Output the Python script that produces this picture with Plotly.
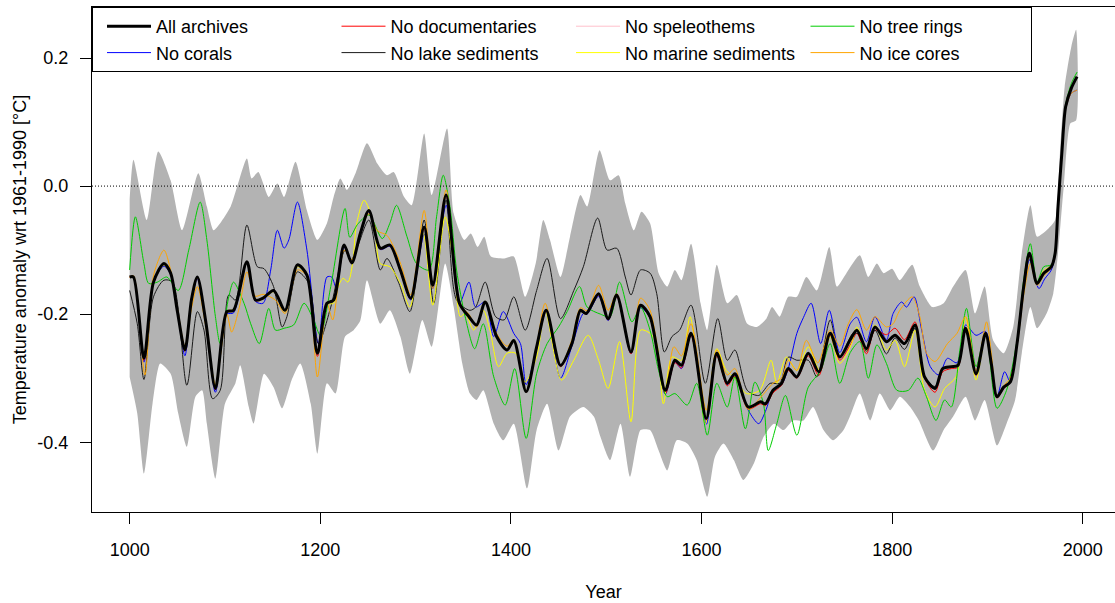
import plotly.graph_objects as go

# ---------------- data ----------------
all_years = [1000,1004,1015,1025,1036,1043,1050,1058,1065,1071,1080,1090,1102,1109,1123,1132,1140,1151,1163,1176,1186,1197,1207,1214,1225,1233,1242,1251,1263,1273,1284,1295,1309,1318,1332,1346,1356,1364,1373,1385,1396,1403,1416,1427,1437,1452,1464,1473,1479,1492,1502,1511,1526,1536,1546,1562,1572,1579,1589,1605,1616,1627,1635,1649,1662,1667,1675,1684,1691,1700,1712,1723,1735,1745,1756,1763,1773,1782,1794,1803,1813,1824,1834,1845,1853,1862,1869,1877,1888,1898,1904,1910,1917,1924,1931,1938,1944,1952,1959,1967,1971,1974,1978,1982,1988,1994]
all_vals = [-0.142,-0.142,-0.269,-0.150,-0.121,-0.136,-0.195,-0.256,-0.176,-0.142,-0.213,-0.316,-0.196,-0.194,-0.118,-0.178,-0.175,-0.163,-0.194,-0.123,-0.139,-0.261,-0.183,-0.178,-0.092,-0.120,-0.074,-0.038,-0.097,-0.092,-0.131,-0.175,-0.064,-0.155,-0.014,-0.183,-0.204,-0.217,-0.181,-0.235,-0.256,-0.241,-0.321,-0.251,-0.194,-0.280,-0.246,-0.194,-0.199,-0.168,-0.207,-0.170,-0.259,-0.186,-0.204,-0.319,-0.272,-0.280,-0.230,-0.363,-0.261,-0.308,-0.293,-0.345,-0.337,-0.340,-0.319,-0.308,-0.285,-0.298,-0.261,-0.290,-0.230,-0.267,-0.240,-0.225,-0.254,-0.220,-0.243,-0.233,-0.246,-0.217,-0.298,-0.316,-0.285,-0.282,-0.280,-0.222,-0.293,-0.230,-0.277,-0.329,-0.314,-0.306,-0.246,-0.157,-0.105,-0.152,-0.136,-0.126,-0.105,-0.032,0.051,0.124,0.153,0.171]

band_up_years = [1000,1004,1018,1030,1043,1055,1072,1081,1088,1095,1106,1123,1128,1135,1146,1155,1162,1174,1186,1197,1207,1214,1221,1228,1237,1249,1260,1270,1277,1288,1296,1309,1317,1333,1340,1351,1358,1365,1372,1379,1393,1403,1415,1426,1434,1441,1452,1462,1473,1480,1493,1504,1513,1520,1529,1537,1546,1555,1564,1572,1579,1589,1599,1606,1616,1627,1637,1648,1658,1668,1674,1682,1691,1700,1710,1721,1734,1742,1752,1766,1775,1784,1791,1800,1808,1821,1829,1842,1854,1864,1877,1887,1897,1906,1917,1927,1936,1945,1952,1962,1971,1976,1981,1988,1993]
band_up_vals = [-0.020,0.041,-0.053,0.054,0.009,-0.069,0.020,-0.032,-0.069,-0.058,-0.032,0.043,0.012,0.022,-0.017,0.004,-0.017,0.038,-0.038,-0.084,-0.058,-0.017,0.012,-0.006,0.020,0.067,0.035,0.017,0.022,-0.017,-0.030,0.082,-0.014,0.090,-0.043,-0.084,-0.074,-0.095,-0.079,-0.110,-0.113,-0.110,-0.173,-0.121,-0.053,-0.084,-0.142,-0.079,-0.014,-0.032,0.056,0.009,0.017,-0.027,-0.069,-0.040,-0.058,-0.136,-0.157,-0.131,-0.147,-0.090,-0.183,-0.225,-0.123,-0.183,-0.170,-0.215,-0.220,-0.207,-0.189,-0.204,-0.173,-0.173,-0.142,-0.163,-0.095,-0.157,-0.136,-0.108,-0.142,-0.121,-0.136,-0.129,-0.147,-0.123,-0.157,-0.189,-0.183,-0.157,-0.131,-0.199,-0.157,-0.241,-0.261,-0.220,-0.105,-0.030,-0.079,-0.069,-0.053,0.051,0.155,0.218,0.244]

band_lo_years = [1000,1008,1015,1024,1032,1043,1051,1060,1069,1076,1081,1090,1100,1111,1116,1125,1130,1141,1151,1160,1170,1179,1190,1197,1207,1216,1226,1235,1242,1249,1263,1273,1284,1294,1307,1317,1331,1340,1349,1357,1364,1371,1382,1392,1403,1417,1427,1438,1450,1462,1476,1487,1494,1504,1515,1525,1536,1546,1555,1564,1574,1585,1595,1606,1614,1623,1634,1644,1655,1665,1676,1686,1696,1707,1717,1728,1738,1749,1757,1766,1777,1787,1798,1808,1819,1828,1843,1854,1864,1877,1887,1897,1910,1920,1929,1936,1945,1952,1962,1969,1974,1980,1987,1993]
band_lo_vals = [-0.298,-0.355,-0.449,-0.340,-0.277,-0.293,-0.355,-0.407,-0.329,-0.319,-0.371,-0.457,-0.340,-0.308,-0.280,-0.345,-0.371,-0.293,-0.314,-0.347,-0.303,-0.277,-0.340,-0.418,-0.308,-0.324,-0.235,-0.225,-0.210,-0.147,-0.215,-0.194,-0.235,-0.293,-0.209,-0.251,-0.121,-0.189,-0.277,-0.324,-0.334,-0.319,-0.371,-0.397,-0.371,-0.472,-0.381,-0.340,-0.413,-0.360,-0.345,-0.360,-0.392,-0.428,-0.371,-0.454,-0.381,-0.381,-0.413,-0.444,-0.397,-0.402,-0.428,-0.485,-0.423,-0.402,-0.428,-0.459,-0.433,-0.392,-0.371,-0.381,-0.366,-0.366,-0.345,-0.381,-0.397,-0.381,-0.355,-0.324,-0.366,-0.324,-0.350,-0.329,-0.345,-0.366,-0.413,-0.381,-0.360,-0.329,-0.366,-0.334,-0.405,-0.371,-0.334,-0.261,-0.189,-0.222,-0.199,-0.168,-0.105,-0.001,0.098,0.103]

corals_years = [1000,1004,1015,1025,1036,1043,1050,1058,1065,1071,1080,1090,1102,1109,1123,1132,1140,1148,1155,1162,1167,1176,1186,1198,1207,1212,1217,1225,1233,1242,1251,1263,1273,1284,1295,1309,1318,1332,1346,1356,1363,1373,1382,1392,1403,1410,1416,1427,1437,1452,1464,1476,1480,1492,1502,1511,1526,1536,1546,1562,1572,1579,1589,1605,1616,1627,1635,1649,1660,1667,1675,1684,1691,1700,1707,1715,1725,1734,1745,1756,1763,1773,1782,1794,1801,1810,1815,1823,1831,1840,1849,1858,1868,1877,1888,1898,1904,1910,1918,1924,1931,1938,1944,1954,1960,1967,1971,1974,1978,1982,1988,1994]
corals_vals = [-0.142,-0.143,-0.275,-0.150,-0.125,-0.138,-0.195,-0.265,-0.178,-0.145,-0.215,-0.322,-0.200,-0.198,-0.120,-0.180,-0.183,-0.131,-0.069,-0.097,-0.084,-0.025,-0.100,-0.246,-0.142,-0.142,-0.160,-0.095,-0.120,-0.076,-0.040,-0.099,-0.094,-0.133,-0.178,-0.075,-0.160,-0.030,-0.183,-0.150,-0.189,-0.181,-0.235,-0.196,-0.230,-0.246,-0.310,-0.255,-0.196,-0.300,-0.250,-0.199,-0.200,-0.172,-0.210,-0.172,-0.262,-0.190,-0.206,-0.325,-0.275,-0.285,-0.232,-0.372,-0.262,-0.310,-0.295,-0.350,-0.371,-0.352,-0.320,-0.310,-0.285,-0.230,-0.205,-0.183,-0.246,-0.194,-0.260,-0.215,-0.205,-0.243,-0.204,-0.240,-0.199,-0.181,-0.189,-0.173,-0.225,-0.282,-0.295,-0.269,-0.276,-0.217,-0.233,-0.227,-0.275,-0.329,-0.290,-0.306,-0.250,-0.165,-0.115,-0.160,-0.145,-0.131,-0.108,-0.035,0.048,0.120,0.145,0.150]

documentaries_years = list(all_years)
documentaries_vals = [-0.142,-0.142,-0.272,-0.151,-0.122,-0.137,-0.196,-0.258,-0.177,-0.143,-0.214,-0.318,-0.197,-0.195,-0.119,-0.179,-0.176,-0.164,-0.195,-0.124,-0.140,-0.266,-0.184,-0.179,-0.093,-0.121,-0.075,-0.039,-0.098,-0.093,-0.132,-0.176,-0.065,-0.156,-0.015,-0.184,-0.205,-0.218,-0.182,-0.236,-0.257,-0.242,-0.322,-0.252,-0.195,-0.282,-0.247,-0.195,-0.200,-0.170,-0.209,-0.172,-0.262,-0.188,-0.206,-0.324,-0.276,-0.284,-0.233,-0.366,-0.265,-0.312,-0.297,-0.348,-0.340,-0.343,-0.323,-0.311,-0.288,-0.300,-0.265,-0.296,-0.233,-0.272,-0.248,-0.230,-0.262,-0.225,-0.232,-0.222,-0.240,-0.212,-0.300,-0.322,-0.290,-0.285,-0.283,-0.224,-0.296,-0.232,-0.279,-0.331,-0.316,-0.307,-0.247,-0.158,-0.106,-0.153,-0.137,-0.127,-0.106,-0.033,0.050,0.123,0.152,0.170]

lake_years = [1000,1008,1015,1025,1036,1045,1060,1071,1078,1087,1095,1104,1111,1123,1134,1141,1151,1160,1165,1176,1188,1198,1211,1226,1232,1239,1251,1263,1270,1282,1294,1309,1319,1332,1343,1357,1363,1373,1384,1393,1403,1415,1427,1438,1452,1466,1476,1491,1501,1511,1520,1526,1536,1546,1553,1561,1569,1577,1589,1604,1617,1627,1635,1648,1660,1672,1682,1691,1700,1712,1721,1735,1745,1759,1766,1773,1782,1794,1803,1813,1824,1834,1845,1853,1862,1869,1877,1888,1898,1904,1910,1917,1924,1931,1938,1944,1952,1959,1967,1971,1974,1978,1982,1988,1994]
lake_vals = [-0.163,-0.215,-0.302,-0.173,-0.147,-0.150,-0.311,-0.196,-0.225,-0.332,-0.319,-0.170,-0.178,-0.061,-0.126,-0.129,-0.157,-0.220,-0.204,-0.134,-0.152,-0.246,-0.189,-0.100,-0.116,-0.095,-0.053,-0.131,-0.113,-0.150,-0.196,-0.053,-0.183,-0.022,-0.178,-0.194,-0.189,-0.150,-0.204,-0.209,-0.173,-0.225,-0.163,-0.113,-0.207,-0.163,-0.126,-0.050,-0.100,-0.097,-0.142,-0.170,-0.131,-0.136,-0.168,-0.259,-0.235,-0.225,-0.186,-0.308,-0.207,-0.272,-0.256,-0.319,-0.327,-0.308,-0.308,-0.267,-0.272,-0.272,-0.298,-0.209,-0.267,-0.230,-0.232,-0.258,-0.225,-0.262,-0.237,-0.255,-0.222,-0.298,-0.313,-0.285,-0.282,-0.279,-0.222,-0.292,-0.231,-0.277,-0.328,-0.313,-0.305,-0.246,-0.157,-0.107,-0.152,-0.136,-0.127,-0.105,-0.032,0.051,0.124,0.153,0.170]

speleothems_years = list(all_years)
speleothems_vals = [-0.142,-0.142,-0.270,-0.150,-0.121,-0.136,-0.195,-0.257,-0.176,-0.142,-0.213,-0.317,-0.196,-0.194,-0.118,-0.178,-0.175,-0.163,-0.194,-0.123,-0.139,-0.262,-0.183,-0.178,-0.092,-0.120,-0.074,-0.038,-0.097,-0.092,-0.131,-0.175,-0.064,-0.155,-0.014,-0.183,-0.204,-0.217,-0.181,-0.235,-0.256,-0.241,-0.321,-0.251,-0.194,-0.280,-0.246,-0.194,-0.199,-0.168,-0.207,-0.170,-0.259,-0.186,-0.204,-0.319,-0.272,-0.280,-0.230,-0.363,-0.261,-0.308,-0.293,-0.345,-0.337,-0.340,-0.319,-0.308,-0.285,-0.298,-0.261,-0.290,-0.230,-0.267,-0.240,-0.225,-0.254,-0.220,-0.243,-0.233,-0.246,-0.217,-0.298,-0.316,-0.285,-0.282,-0.280,-0.222,-0.293,-0.230,-0.277,-0.329,-0.314,-0.306,-0.246,-0.157,-0.105,-0.152,-0.136,-0.126,-0.105,-0.032,0.051,0.124,0.153,0.171]

marine_years = [1000,1004,1015,1025,1036,1043,1050,1058,1065,1071,1080,1090,1102,1109,1123,1132,1140,1151,1163,1176,1186,1197,1207,1214,1218,1224,1229,1234,1238,1246,1256,1263,1273,1284,1294,1308,1318,1331,1340,1347,1352,1361,1371,1378,1387,1396,1405,1415,1427,1436,1453,1466,1481,1492,1502,1514,1526,1536,1546,1553,1560,1569,1579,1588,1604,1616,1626,1635,1647,1661,1673,1679,1689,1700,1712,1724,1735,1745,1757,1763,1773,1782,1794,1803,1813,1824,1834,1845,1855,1867,1877,1888,1898,1904,1910,1917,1924,1931,1938,1944,1952,1959,1967,1971,1974,1978,1982,1988,1994]
marine_vals = [-0.142,-0.142,-0.265,-0.150,-0.123,-0.137,-0.195,-0.255,-0.175,-0.143,-0.210,-0.312,-0.195,-0.193,-0.120,-0.178,-0.176,-0.165,-0.196,-0.126,-0.140,-0.260,-0.185,-0.183,-0.160,-0.144,-0.150,-0.120,-0.060,-0.022,-0.058,-0.121,-0.126,-0.152,-0.189,-0.074,-0.186,-0.048,-0.121,-0.204,-0.199,-0.225,-0.194,-0.225,-0.282,-0.261,-0.261,-0.306,-0.267,-0.196,-0.303,-0.272,-0.233,-0.272,-0.316,-0.243,-0.368,-0.225,-0.230,-0.246,-0.340,-0.267,-0.272,-0.204,-0.371,-0.254,-0.288,-0.300,-0.324,-0.319,-0.272,-0.308,-0.267,-0.288,-0.251,-0.288,-0.235,-0.277,-0.248,-0.220,-0.256,-0.217,-0.256,-0.241,-0.282,-0.225,-0.319,-0.345,-0.316,-0.298,-0.204,-0.303,-0.233,-0.278,-0.330,-0.315,-0.306,-0.246,-0.157,-0.110,-0.150,-0.132,-0.124,-0.105,-0.032,0.051,0.124,0.153,0.170]

treerings_years = [1000,1006,1015,1020,1029,1039,1051,1062,1074,1081,1090,1095,1104,1109,1120,1127,1136,1146,1153,1162,1172,1183,1193,1200,1211,1226,1231,1239,1251,1265,1273,1280,1291,1301,1314,1322,1329,1336,1343,1352,1362,1371,1382,1394,1404,1416,1427,1438,1450,1459,1472,1480,1494,1504,1514,1527,1536,1546,1555,1564,1572,1585,1595,1606,1616,1627,1635,1646,1656,1665,1670,1679,1688,1700,1712,1725,1735,1745,1756,1766,1775,1784,1794,1805,1817,1827,1836,1846,1855,1862,1871,1878,1888,1898,1910,1920,1931,1938,1945,1952,1959,1967,1971,1974,1978,1982,1988,1994]
treerings_vals = [-0.131,-0.048,-0.121,-0.152,-0.150,-0.142,-0.163,-0.100,-0.025,-0.084,-0.204,-0.246,-0.173,-0.150,-0.183,-0.215,-0.246,-0.191,-0.225,-0.222,-0.217,-0.183,-0.209,-0.233,-0.157,-0.035,-0.080,-0.060,-0.045,-0.082,-0.058,-0.030,-0.079,-0.121,-0.131,-0.048,0.017,-0.032,-0.131,-0.204,-0.254,-0.215,-0.298,-0.342,-0.285,-0.394,-0.293,-0.246,-0.220,-0.196,-0.157,-0.189,-0.200,-0.204,-0.150,-0.212,-0.189,-0.225,-0.288,-0.329,-0.324,-0.342,-0.308,-0.389,-0.308,-0.345,-0.298,-0.379,-0.306,-0.340,-0.413,-0.371,-0.327,-0.389,-0.314,-0.288,-0.246,-0.308,-0.260,-0.243,-0.300,-0.248,-0.277,-0.319,-0.319,-0.300,-0.329,-0.366,-0.334,-0.345,-0.256,-0.191,-0.282,-0.230,-0.347,-0.319,-0.241,-0.147,-0.090,-0.150,-0.126,-0.123,-0.100,-0.030,0.052,0.127,0.160,0.178]

icecores_years = [1000,1004,1016,1025,1036,1043,1050,1058,1065,1071,1080,1090,1102,1107,1115,1123,1132,1140,1153,1163,1176,1186,1197,1207,1213,1225,1233,1242,1251,1260,1270,1284,1295,1309,1318,1332,1346,1356,1364,1373,1385,1396,1403,1416,1427,1436,1452,1464,1473,1480,1492,1502,1511,1526,1536,1546,1562,1571,1579,1589,1605,1616,1627,1635,1649,1662,1675,1684,1691,1700,1710,1722,1735,1745,1754,1763,1773,1782,1794,1801,1808,1821,1829,1836,1845,1858,1868,1877,1888,1899,1904,1910,1918,1924,1931,1938,1945,1952,1959,1967,1971,1974,1978,1982,1988,1994]
icecores_vals = [-0.142,-0.140,-0.295,-0.140,-0.100,-0.131,-0.190,-0.250,-0.190,-0.157,-0.220,-0.310,-0.200,-0.228,-0.190,-0.134,-0.172,-0.169,-0.178,-0.199,-0.131,-0.141,-0.298,-0.183,-0.209,-0.100,-0.115,-0.070,-0.043,-0.070,-0.077,-0.120,-0.170,-0.038,-0.160,-0.006,-0.185,-0.200,-0.220,-0.180,-0.230,-0.250,-0.240,-0.320,-0.250,-0.183,-0.280,-0.240,-0.190,-0.195,-0.155,-0.194,-0.168,-0.261,-0.175,-0.194,-0.320,-0.251,-0.265,-0.215,-0.350,-0.256,-0.295,-0.285,-0.349,-0.330,-0.308,-0.300,-0.272,-0.288,-0.241,-0.276,-0.225,-0.250,-0.215,-0.193,-0.225,-0.204,-0.220,-0.215,-0.194,-0.173,-0.204,-0.261,-0.274,-0.246,-0.230,-0.204,-0.289,-0.212,-0.260,-0.327,-0.310,-0.300,-0.250,-0.170,-0.121,-0.155,-0.140,-0.128,-0.108,-0.035,0.048,0.120,0.145,0.150]

x_tick_vals = [1000, 1200, 1400, 1600, 1800, 2000]
y_tick_vals = [-0.4, -0.2, 0.0, 0.2]
y_tick_text = ["-0.4", "-0.2", "0.0", "0.2"]

# ---------------- figure ----------------
FONT = "Liberation Sans, Arial, sans-serif"
BAND = "#B3B3B3"

fig = go.Figure()

fig.add_trace(go.Scatter(
    x=band_up_years + band_lo_years[::-1],
    y=band_up_vals + band_lo_vals[::-1],
    fill="toself", fillcolor=BAND,
    line=dict(width=0, color=BAND, shape="spline", smoothing=0.6),
    mode="lines", showlegend=False, hoverinfo="skip"))

series = [
    ("No corals", corals_years, corals_vals, "#0000FF", 5),
    ("No documentaries", documentaries_years, documentaries_vals, "#FF0000", 2),
    ("No lake sediments", lake_years, lake_vals, "#1a1a1a", 6),
    ("No speleothems", speleothems_years, speleothems_vals, "#FFC0CB", 3),
    ("No marine sediments", marine_years, marine_vals, "#FFFF00", 7),
    ("No tree rings", treerings_years, treerings_vals, "#00CD00", 4),
    ("No ice cores", icecores_years, icecores_vals, "#FFA500", 8),
]
for name, xs, ys, col, rank in series:
    fig.add_trace(go.Scatter(x=xs, y=ys, mode="lines", name=name,
                             line=dict(color=col, width=1, shape="spline", smoothing=0.8),
                             legendrank=rank))

fig.add_trace(go.Scatter(x=all_years, y=all_vals, mode="lines", name="All archives",
                         line=dict(color="black", width=3, shape="spline", smoothing=0.8),
                         legendrank=1))

fig.add_shape(type="line", xref="paper", x0=0, x1=1, yref="y", y0=0, y1=0,
              line=dict(color="black", width=1, dash="1px,2px"), layer="above")

fig.update_layout(
    width=1115, height=603,
    margin=dict(l=92, r=0, t=7, b=91),
    paper_bgcolor="white", plot_bgcolor="white",
    font=dict(family=FONT, size=18, color="black"),
    showlegend=True,
    legend=dict(orientation="h", x=0, y=1, xanchor="left", yanchor="top",
                bgcolor="white", bordercolor="black", borderwidth=1,
                entrywidth=166.5, entrywidthmode="pixels", itemwidth=44, indentation=9,
                font=dict(family=FONT, size=18, color="black"),
                traceorder="normal", tracegroupgap=0),
    xaxis=dict(range=[960.5, 2033.8], tickvals=x_tick_vals, ticks="outside", ticklen=11,
               tickcolor="black", showline=True, linecolor="black", linewidth=1, mirror=True,
               showgrid=False, zeroline=False, ticklabelstandoff=10,
               title=dict(text="Year", standoff=26, font=dict(size=18))),
    yaxis=dict(range=[-0.509, 0.2797], tickvals=y_tick_vals, ticktext=y_tick_text,
               ticks="outside", ticklen=11, tickcolor="black", showline=True,
               linecolor="black", linewidth=1, mirror=False, showgrid=False, zeroline=False,
               ticklabelstandoff=8,
               title=dict(text="Temperature anomaly wrt 1961-1990 [°C]", standoff=6,
                          font=dict(size=18))),
)

fig.write_html("out.html")
